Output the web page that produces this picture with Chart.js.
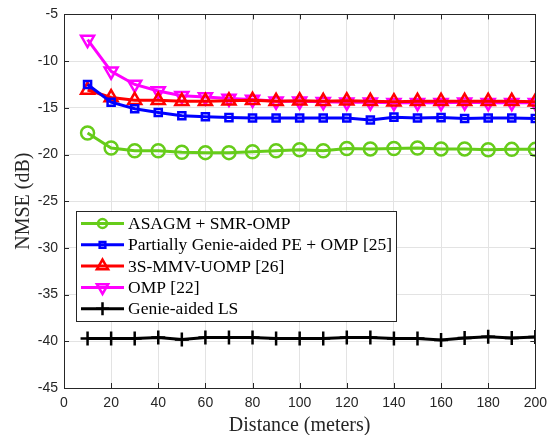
<!DOCTYPE html>
<html>
<head>
<meta charset="utf-8">
<script src="https://cdn.jsdelivr.net/npm/chart.js@4.4.0/dist/chart.umd.min.js"></script>
<style>
  html, body { margin: 0; padding: 0; background: #fff; }
  #wrap { width: 554px; height: 435px; position: relative; }
</style>
</head>
<body>
<div id="wrap"><canvas id="myChart" width="554" height="435"></canvas></div>
<script>
// distance (meters)
const distance = [10, 20, 30, 40, 50, 60, 70, 80, 90, 100, 110, 120, 130, 140, 150, 160, 170, 180, 190, 200]

// NMSE (dB) per method
const asagm = [-17.7, -19.3, -19.6, -19.6, -19.75, -19.8, -19.8, -19.7, -19.6, -19.5, -19.6, -19.35, -19.4, -19.35, -19.3, -19.4, -19.4, -19.5, -19.45, -19.45]
const partialGenie = [-12.5, -14.4, -15.1, -15.5, -15.85, -15.95, -16.05, -16.1, -16.1, -16.1, -16.1, -16.1, -16.3, -16.0, -16.1, -16.05, -16.15, -16.1, -16.1, -16.15]
const mmvUomp = [-13.1, -13.9, -14.2, -14.2, -14.3, -14.3, -14.25, -14.2, -14.3, -14.25, -14.3, -14.25, -14.3, -14.35, -14.3, -14.3, -14.3, -14.3, -14.3, -14.35]
const omp = [-7.7, -11.1, -12.5, -13.2, -13.7, -13.85, -14.0, -14.1, -14.3, -14.3, -14.35, -14.4, -14.4, -14.45, -14.45, -14.45, -14.4, -14.45, -14.45, -14.45]
const genieLS = [-39.7, -39.7, -39.7, -39.6, -39.8, -39.6, -39.6, -39.6, -39.7, -39.7, -39.7, -39.6, -39.6, -39.7, -39.7, -39.85, -39.65, -39.5, -39.65, -39.55]

const labels = ['ASAGM + SMR-OMP', 'Partially Genie-aided PE + OMP [25]', '3S-MMV-UOMP [26]', 'OMP [22]', 'Genie-aided LS']
const colors = ['#66cc1a', '#0000ff', '#ff0000', '#ff00ff', '#000000']

const xTicks = [0, 20, 40, 60, 80, 100, 120, 140, 160, 180, 200]
const yTicks = [-45, -40, -35, -30, -25, -20, -15, -10, -5]

function pts(ys) {
    return ys.map((y, i) => ({ x: distance[i], y: y }))
}

const styles = [
    { pointStyle: 'circle', pointRadius: 6.5, pointRotation: 0, legendRadius: 4.5 },
    { pointStyle: 'rect', pointRadius: 5, pointRotation: 0, legendRadius: 4 },
    { pointStyle: 'triangle', pointRadius: 7.5, pointRotation: 0, legendRadius: 6.5 },
    { pointStyle: 'triangle', pointRadius: 7.5, pointRotation: 180, legendRadius: 6.5 },
    { pointStyle: 'cross', pointRadius: 7, pointRotation: 0, legendRadius: 6.5 }
]
const series = [asagm, partialGenie, mmvUomp, omp, genieLS]

const datasets = series.map((s, i) => ({
    label: labels[i],
    data: pts(s),
    borderColor: colors[i],
    backgroundColor: 'rgba(0,0,0,0)',
    pointBorderColor: colors[i],
    pointBackgroundColor: 'rgba(0,0,0,0)',
    borderWidth: 3,
    pointBorderWidth: 2.5,
    pointStyle: styles[i].pointStyle,
    pointRadius: styles[i].pointRadius,
    pointRotation: styles[i].pointRotation,
    tension: 0
}))

// matlab-style box, inward ticks and legend inside the axes
const boxPlugin = {
    id: 'boxPlugin',
    afterDraw(chart) {
        const ctx = chart.ctx
        const a = chart.chartArea
        const xs = chart.scales.x
        const ys = chart.scales.y
        ctx.save()
        ctx.strokeStyle = '#262626'
        ctx.lineWidth = 1
        ctx.beginPath()
        xTicks.forEach(v => {
            const px = Math.round(xs.getPixelForValue(v)) + 0.5
            ctx.moveTo(px, a.bottom); ctx.lineTo(px, a.bottom - 5)
            ctx.moveTo(px, a.top); ctx.lineTo(px, a.top + 5)
        })
        yTicks.forEach(v => {
            const py = Math.round(ys.getPixelForValue(v)) + 0.5
            ctx.moveTo(a.left, py); ctx.lineTo(a.left + 5, py)
            ctx.moveTo(a.right, py); ctx.lineTo(a.right - 5, py)
        })
        ctx.stroke()
        ctx.strokeRect(Math.round(a.left) + 0.5, Math.round(a.top) + 0.5, Math.round(a.right - a.left), Math.round(a.bottom - a.top))

        // legend
        const lx = 76, ly = 211, lw = 320, lh = 110
        ctx.fillStyle = '#ffffff'
        ctx.fillRect(lx, ly, lw, lh)
        ctx.strokeStyle = '#262626'
        ctx.lineWidth = 1
        ctx.strokeRect(lx + 0.5, ly + 0.5, lw, lh)
        ctx.font = '17.5px "Liberation Serif", "Times New Roman", serif'
        ctx.textBaseline = 'middle'
        chart.data.datasets.forEach((ds, i) => {
            const y = 223.5 + i * 21.3
            ctx.strokeStyle = ds.borderColor
            ctx.lineWidth = 3
            ctx.beginPath()
            ctx.moveTo(81, y); ctx.lineTo(124, y)
            ctx.stroke()
            ctx.lineWidth = 2.5
            ctx.fillStyle = 'rgba(0,0,0,0)'
            Chart.helpers.drawPoint(ctx, {
                pointStyle: ds.pointStyle,
                rotation: ds.pointRotation,
                radius: styles[i].legendRadius,
                borderWidth: 2.5
            }, 102.5, y)
            ctx.fillStyle = '#000'
            ctx.fillText(ds.label, 128, y + 1)
        })
        ctx.restore()
    }
}

const config = {
    type: 'line',
    data: { datasets: datasets },
    options: {
        responsive: false,
        animation: false,
        layout: { padding: { top: 12, right: 15, left: 0, bottom: 0 } },
        plugins: {
            legend: { display: false },
            tooltip: { enabled: false }
        },
        scales: {
            x: {
                type: 'linear',
                min: 0,
                max: 200,
                afterBuildTicks: s => { s.ticks = xTicks.map(v => ({ value: v })) },
                afterFit: s => { s.height = 47 },
                ticks: {
                    color: '#262626',
                    font: { family: '"Liberation Sans", Arial, sans-serif', size: 14 },
                    padding: 7,
                    maxRotation: 0
                },
                grid: { color: '#e3e3e3', drawTicks: false },
                border: { display: false },
                title: {
                    display: true,
                    text: 'Distance (meters)',
                    color: '#262626',
                    font: { family: '"Liberation Serif", "Times New Roman", serif', size: 20, lineHeight: 0.9 },
                    padding: { top: 0, bottom: 0 }
                }
            },
            y: {
                type: 'linear',
                min: -45,
                max: -5,
                afterBuildTicks: s => { s.ticks = yTicks.map(v => ({ value: v })) },
                afterFit: s => { s.width = 64 },
                ticks: {
                    color: '#262626',
                    font: { family: '"Liberation Sans", Arial, sans-serif', size: 14 },
                    padding: 6
                },
                grid: { color: '#e3e3e3', drawTicks: false },
                border: { display: false },
                title: {
                    display: true,
                    text: 'NMSE (dB)',
                    color: '#262626',
                    font: { family: '"Liberation Serif", "Times New Roman", serif', size: 20, lineHeight: 1.2 },
                    padding: { top: 12, bottom: 0 }
                }
            }
        }
    },
    plugins: [boxPlugin]
}

var myChart = new Chart(document.getElementById('myChart'), config)
</script>
</body>
</html>
